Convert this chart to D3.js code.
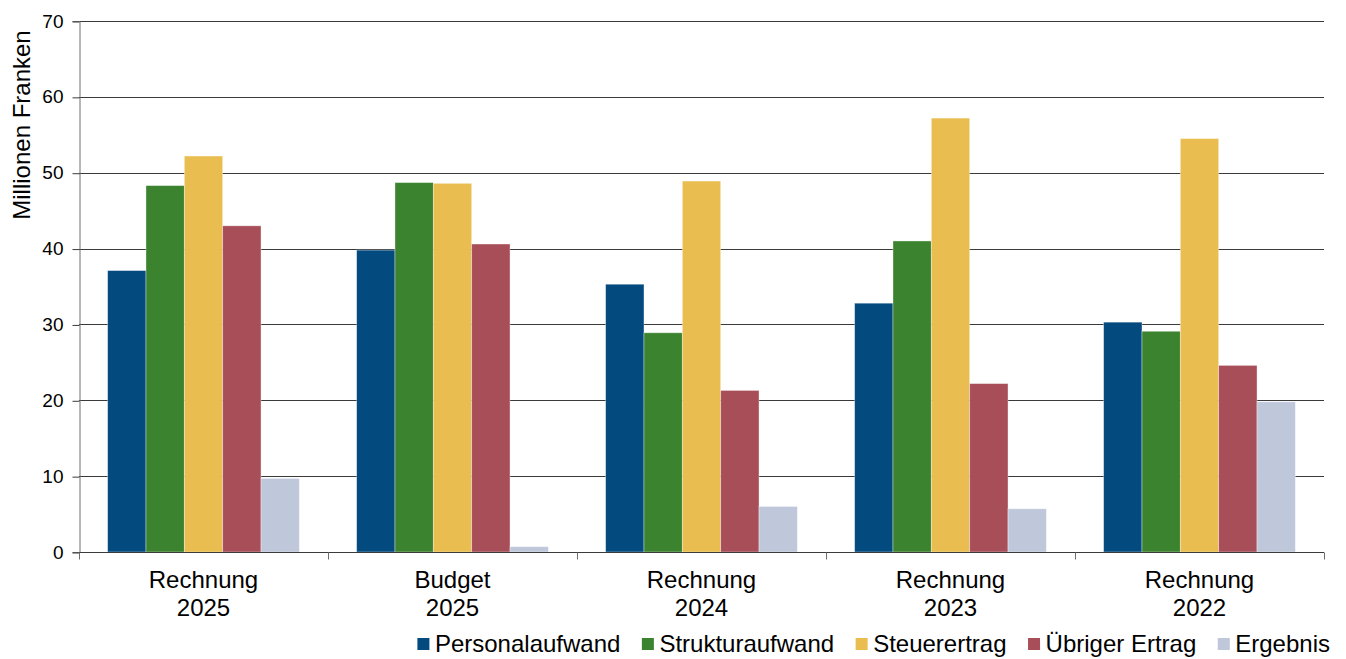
<!DOCTYPE html>
<html>
<head>
<meta charset="utf-8">
<script src="https://cdn.jsdelivr.net/npm/d3@7"></script>
<style>
  body { margin: 0; background: #fff; }
  svg text { font-family: "Liberation Sans", Arial, sans-serif; fill: #000; }
</style>
</head>
<body>
<div id="container"></div>
<script>
/* CONSTANTS AND GLOBALS */
const width = 1346,
      height = 659,
      margin = {top: 21, bottom: 107, left: 79, right: 22};

// data
const categories = [["Rechnung", "2025"], ["Budget", "2025"], ["Rechnung", "2024"], ["Rechnung", "2023"], ["Rechnung", "2022"]];
const seriesNames = ["Personalaufwand", "Strukturaufwand", "Steuerertrag", "Übriger Ertrag", "Ergebnis"];
const seriesColors = ["#034a7f", "#3c832f", "#e9bd4f", "#a84e58", "#bfc8da"];
const personalaufwand = [37.1, 39.8, 35.3, 32.8, 30.3];
const strukturaufwand = [48.3, 48.7, 28.9, 41.0, 29.1];
const steuerertrag    = [52.2, 48.6, 48.9, 57.2, 54.5];
const uebrigerErtrag  = [43.0, 40.6, 21.3, 22.2, 24.6];
const ergebnis        = [9.7, 0.7, 6.0, 5.7, 19.8];
const yTicks = [0, 10, 20, 30, 40, 50, 60, 70];

const seriesValues = [personalaufwand, strukturaufwand, steuerertrag, uebrigerErtrag, ergebnis];
const catKeys = categories.map(c => c.join(" "));

// flat table for drawing
const data = catKeys.map((k, i) => ({
  key: k,
  values: seriesNames.map((s, j) => ({series: s, value: seriesValues[j][i]}))
}));

/* SCALES */
const x0 = d3.scaleBand()
  .domain(catKeys)
  .range([margin.left, width - margin.right])
  .paddingInner(0.23)
  .paddingOuter(0.115);

const x1 = d3.scaleBand()
  .domain(seriesNames)
  .range([0, x0.bandwidth()]);

const y = d3.scaleLinear()
  .domain([0, 70])
  .range([height - margin.bottom, margin.top]);

const color = d3.scaleOrdinal().domain(seriesNames).range(seriesColors);

/* SVG */
const svg = d3.select("#container").append("svg")
  .attr("width", width)
  .attr("height", height);

// gridlines
svg.append("g")
  .selectAll("line")
  .data(yTicks.filter(d => d > 0))
  .join("line")
  .attr("x1", margin.left)
  .attr("x2", width - margin.right)
  .attr("y1", d => Math.round(y(d)) + 0.5)
  .attr("y2", d => Math.round(y(d)) + 0.5)
  .attr("stroke", "#3a3a3a")
  .attr("stroke-width", 1);

// bars
svg.append("g")
  .selectAll("g")
  .data(data)
  .join("g")
  .attr("transform", d => `translate(${x0(d.key)},0)`)
  .selectAll("rect")
  .data(d => d.values)
  .join("rect")
  .attr("x", d => x1(d.series))
  .attr("y", d => y(d.value))
  .attr("width", x1.bandwidth())
  .attr("height", d => y(0) - y(d.value))
  .attr("fill", d => color(d.series))
  .attr("stroke", "rgba(255,255,255,0.45)")
  .attr("stroke-width", 0.8);

// y axis
const yAxis = d3.axisLeft(y).tickValues(yTicks).tickSize(7).tickPadding(9);
const yAxisGroup = svg.append("g")
  .attr("transform", `translate(${margin.left + 0.5},0)`)
  .call(yAxis);
yAxisGroup.select(".domain").attr("stroke", "#6e6e6e");
yAxisGroup.selectAll(".tick line").attr("stroke", "#3a3a3a").attr("transform", "translate(0,0.5)");
yAxisGroup.selectAll(".tick text")
  .attr("font-size", "19px")
  .attr("font-family", "Liberation Sans, Arial, sans-serif");

// x baseline and category ticks
const step = x0.step();
const bounds = d3.range(catKeys.length + 1).map(i => margin.left + i * step);
const baseY = Math.round(y(0)) + 0.5;
svg.append("line")
  .attr("x1", margin.left)
  .attr("x2", width - margin.right)
  .attr("y1", baseY)
  .attr("y2", baseY)
  .attr("stroke", "#3a3a3a");
svg.append("g")
  .selectAll("line")
  .data(bounds)
  .join("line")
  .attr("x1", d => Math.round(d) + 0.5)
  .attr("x2", d => Math.round(d) + 0.5)
  .attr("y1", baseY)
  .attr("y2", baseY + 7)
  .attr("stroke", "#6e6e6e");

// category labels (two lines)
const catLabels = svg.append("g")
  .selectAll("text")
  .data(categories)
  .join("text")
  .attr("x", (d, i) => x0(catKeys[i]) + x0.bandwidth() / 2)
  .attr("y", 588)
  .attr("text-anchor", "middle")
  .attr("font-size", "24px");
catLabels.append("tspan")
  .attr("x", (d, i) => x0(catKeys[i]) + x0.bandwidth() / 2)
  .text(d => d[0]);
catLabels.append("tspan")
  .attr("x", (d, i) => x0(catKeys[i]) + x0.bandwidth() / 2)
  .attr("dy", 28)
  .text(d => d[1]);

// y axis title
svg.append("text")
  .attr("transform", "translate(30,125) rotate(-90)")
  .attr("text-anchor", "middle")
  .attr("font-size", "24px")
  .text("Millionen Franken");

// legend, right aligned
const legend = svg.append("g");
const items = legend.selectAll("g")
  .data(seriesNames)
  .join("g");
items.append("rect")
  .attr("width", 12)
  .attr("height", 12)
  .attr("y", 638)
  .attr("fill", d => color(d));
items.append("text")
  .attr("x", 17.5)
  .attr("y", 652)
  .attr("font-size", "24px")
  .text(d => d);

let offs = [];
let pos = 0;
const gap = 21.5;
items.each(function() {
  const w = d3.select(this).select("text").node().getComputedTextLength();
  offs.push(pos);
  pos += 17.5 + w + gap;
});
const totalW = pos - gap;
const legendStart = 1330 - totalW;
items.attr("transform", (d, i) => `translate(${legendStart + offs[i]},0)`);
</script>
</body>
</html>
